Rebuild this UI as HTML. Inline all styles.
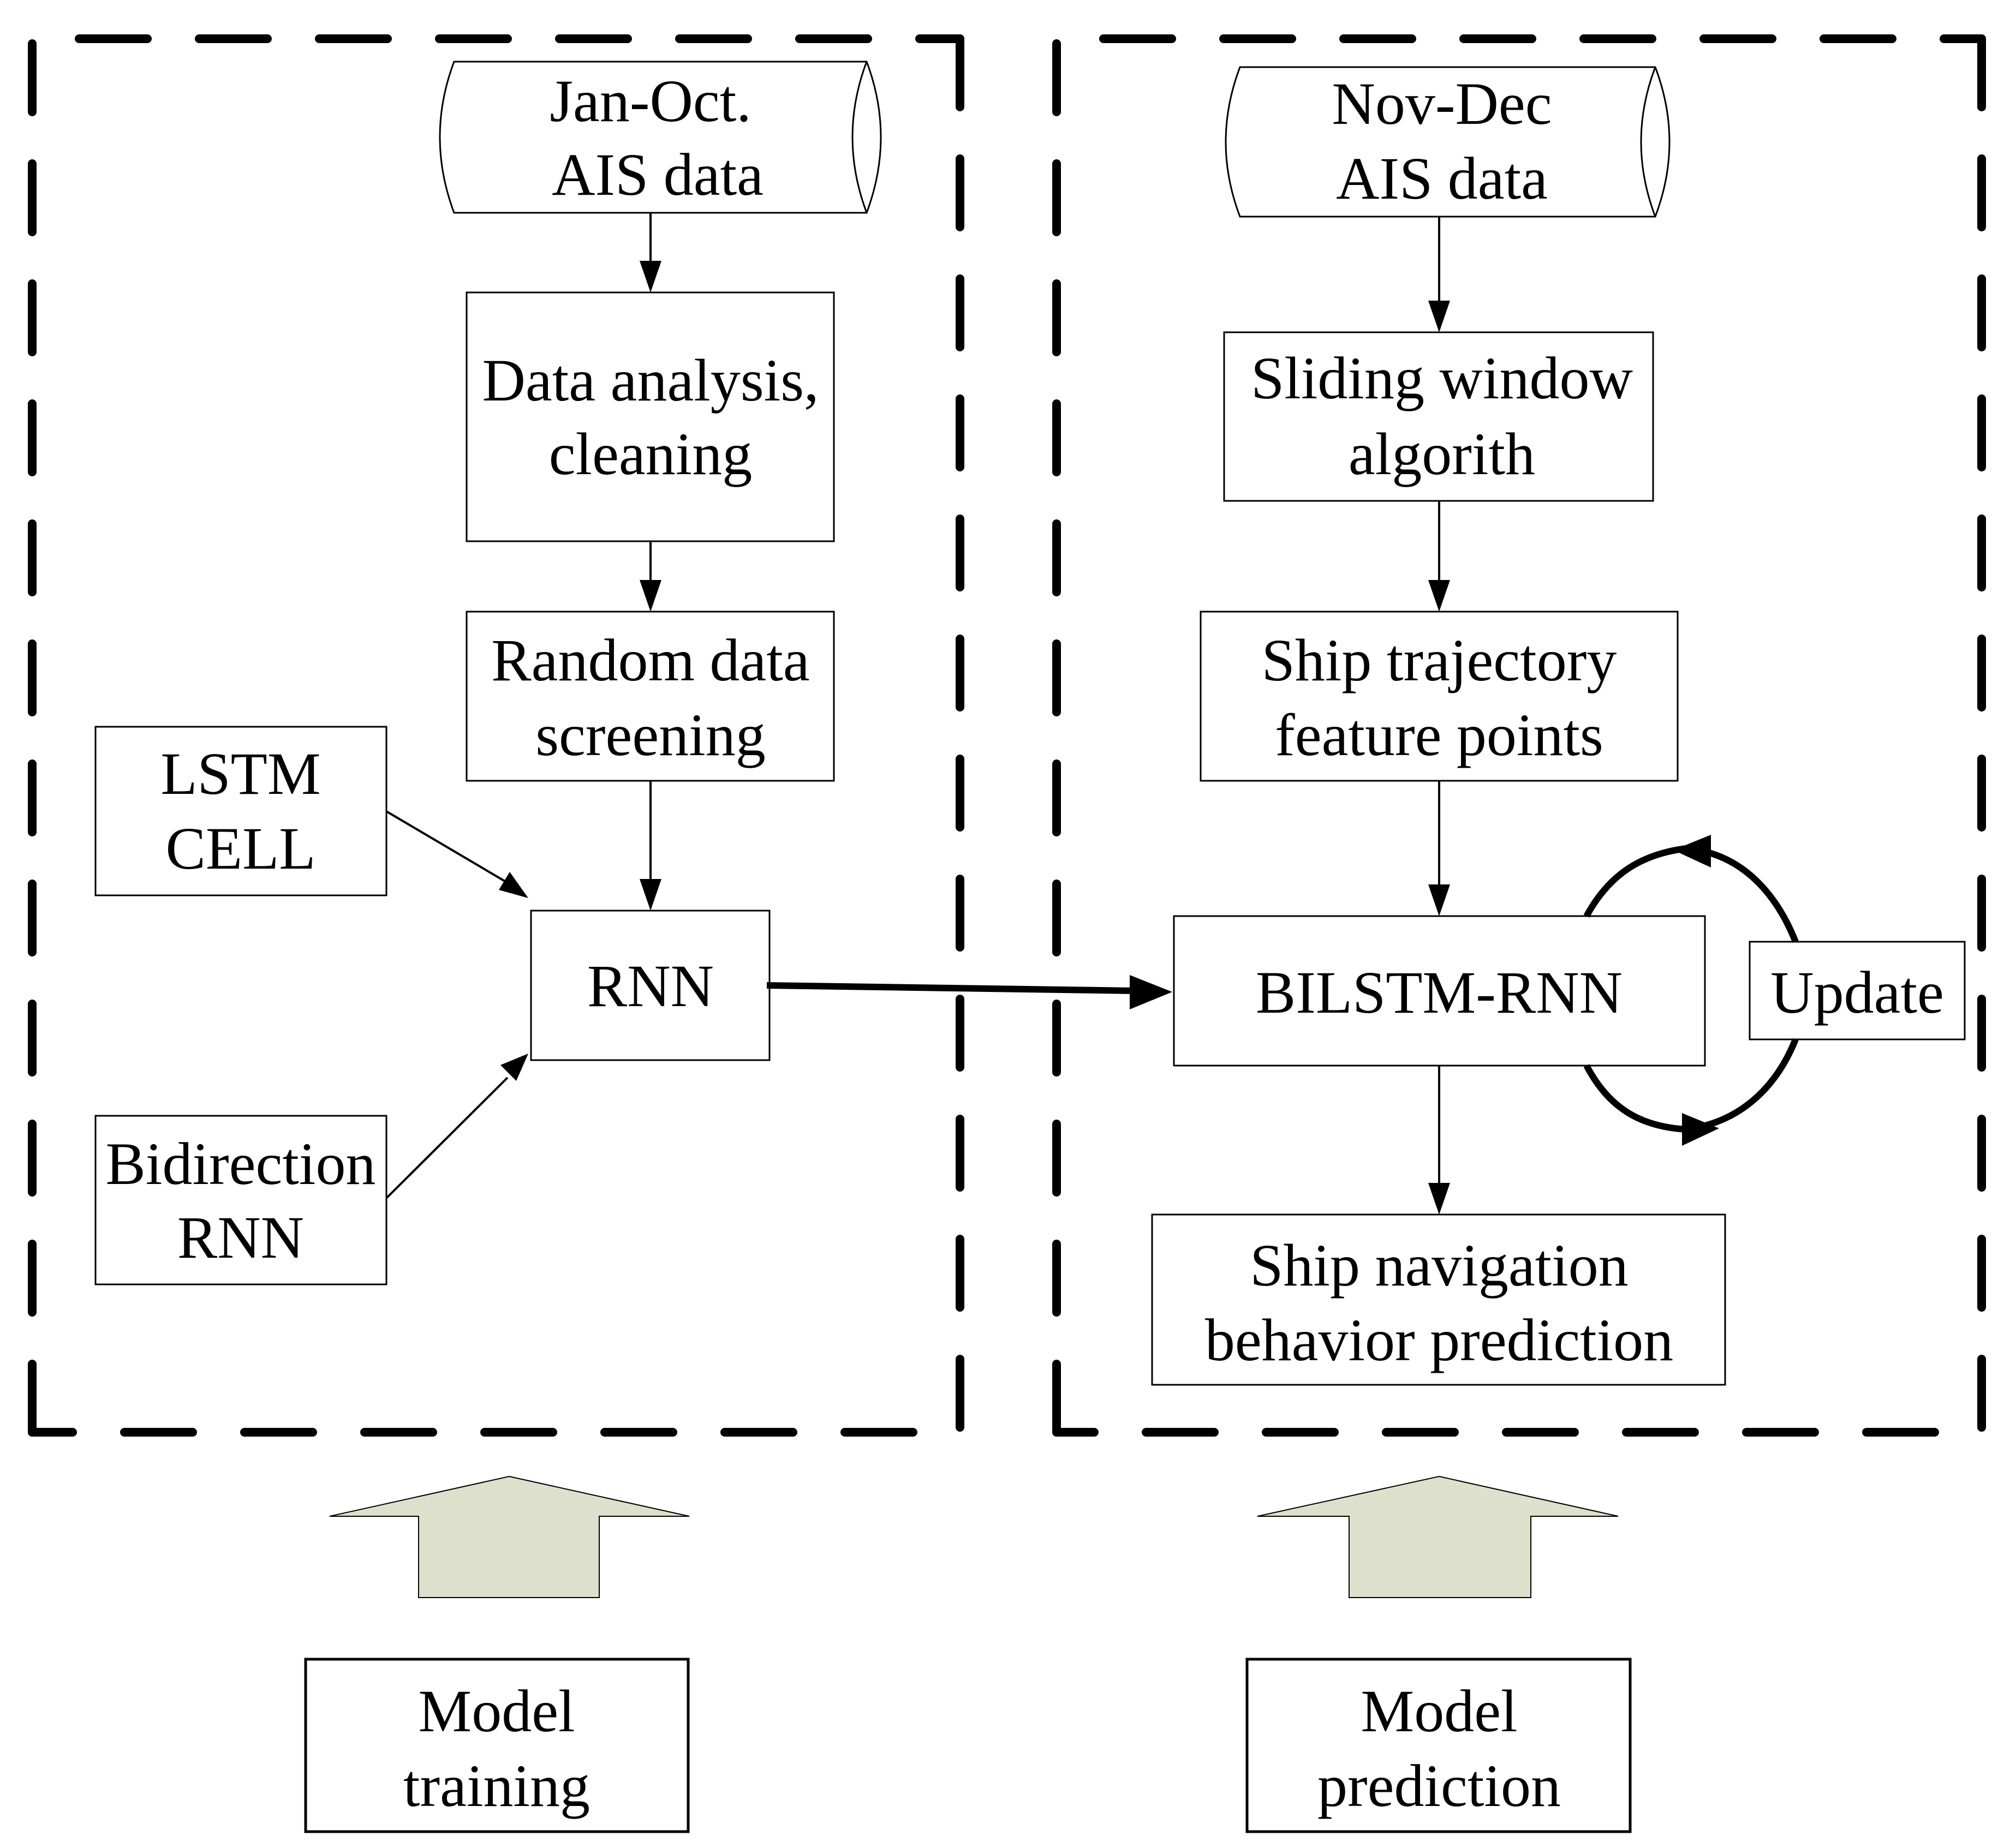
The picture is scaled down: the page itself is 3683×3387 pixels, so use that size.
<!DOCTYPE html>
<html><head><meta charset="utf-8"><style>html,body{margin:0;padding:0;background:#fff}svg{display:block}</style></head>
<body>
<svg width="3683" height="3387" viewBox="0 0 3683 3387" xmlns="http://www.w3.org/2000/svg" font-family="'Liberation Serif', serif" font-size="110" text-anchor="middle">
<rect width="3683" height="3387" fill="#fff"/>
<g fill="none" stroke="#000" stroke-width="16" stroke-linecap="round" stroke-dasharray="125 95">
<path d="M59 2625 L59 71 L1759 71"/>
<path d="M1759 71 L1759 2625 L59 2625"/>
<path d="M1936 2625 L1936 71 L3631 71"/>
<path d="M3631 71 L3631 2625 L1936 2625"/>
</g>
<g fill="#fff" stroke="#000" stroke-width="3">
<path d="M832 113 L1588 113 Q1640 251 1588 390 L832 390 Q780 251 832 113 Z"/>
<path d="M1588 113 Q1536 251 1588 390"/>
<path d="M2272 123 L3033 123 Q3085 260 3033 397 L2272 397 Q2220 260 2272 123 Z"/>
<path d="M3033 123 Q2981 260 3033 397"/>
<rect x="855" y="536" width="673" height="456"/>
<rect x="855" y="1121" width="673" height="310"/>
<rect x="175" y="1332" width="533" height="309"/>
<rect x="973" y="1669" width="437" height="274"/>
<rect x="175" y="2045" width="533" height="309"/>
<rect x="2243" y="609" width="786" height="309"/>
<rect x="2200" y="1121" width="874" height="310"/>
<rect x="2151" y="1679" width="973" height="274"/>
<rect x="3206" y="1726" width="394" height="179"/>
<rect x="2111" y="2226" width="1050" height="312"/>
</g>
<g stroke="#000" stroke-width="4" fill="none">
<line x1="1192" y1="390" x2="1192" y2="480"/>
<line x1="1192" y1="992" x2="1192" y2="1065"/>
<line x1="1192" y1="1431" x2="1192" y2="1613"/>
<line x1="2637" y1="397" x2="2637" y2="553"/>
<line x1="2637" y1="918" x2="2637" y2="1065"/>
<line x1="2637" y1="1431" x2="2637" y2="1623"/>
<line x1="2637" y1="1953" x2="2637" y2="2170"/>
<line x1="708" y1="1487" x2="925" y2="1615"/>
<line x1="708" y1="2196" x2="930" y2="1975"/>
</g>
<g fill="#000">
<polygon points="1192,536 1172,478 1212,478"/>
<polygon points="1192,1121 1172,1063 1212,1063"/>
<polygon points="1192,1669 1172,1611 1212,1611"/>
<polygon points="2637,609 2617,551 2657,551"/>
<polygon points="2637,1121 2617,1063 2657,1063"/>
<polygon points="2637,1679 2617,1621 2657,1621"/>
<polygon points="2637,2226 2617,2168 2657,2168"/>
<polygon points="968,1646 914,1631 934,1598"/>
<polygon points="968,1931 946,1981 917,1952"/>
</g>
<line x1="1405" y1="1806" x2="2080" y2="1816" stroke="#000" stroke-width="12"/>
<polygon points="2148,1818 2070,1787 2070,1850" fill="#000"/>
<g fill="none" stroke="#000" stroke-width="12">
<path d="M2907 1679 C2950 1600 3010 1565 3090 1555 C3200 1565 3260 1650 3290 1726"/>
<path d="M2907 1953 C2950 2035 3010 2065 3090 2070 C3200 2055 3260 1980 3290 1905"/>
</g>
<g fill="#000">
<polygon points="3066,1558 3135,1530 3135,1590"/>
<polygon points="3150,2068 3082,2040 3082,2100"/>
</g>
<g fill="#dde1cc" stroke="#000" stroke-width="2">
<polygon points="933,2706 1263,2779 1098,2779 1098,2928 767,2928 767,2779 604,2779"/>
<polygon points="2637,2706 2965,2779 2805,2779 2805,2928 2472,2928 2472,2779 2304,2779"/>
</g>
<g fill="#fff" stroke="#000" stroke-width="5">
<rect x="560" y="3041" width="701" height="316"/>
<rect x="2285" y="3041" width="702" height="316"/>
</g>
<g fill="#000">
<text x="1192" y="222">Jan-Oct.</text>
<text x="1205" y="357">AIS data</text>
<text x="1192" y="734">Data analysis,</text>
<text x="1192" y="869">cleaning</text>
<text x="1192" y="1247">Random data</text>
<text x="1192" y="1384">screening</text>
<text x="441" y="1455">LSTM</text>
<text x="441" y="1592">CELL</text>
<text x="1192" y="1844">RNN</text>
<text x="441" y="2170">Bidirection</text>
<text x="441" y="2305">RNN</text>
<text x="2642" y="227">Nov-Dec</text>
<text x="2642" y="364">AIS data</text>
<text x="2642" y="730">Sliding window</text>
<text x="2642" y="869">algorith</text>
<text x="2637" y="1247">Ship trajectory</text>
<text x="2637" y="1384">feature points</text>
<text x="2637" y="1856">BILSTM-RNN</text>
<text x="3403" y="1856">Update</text>
<text x="2637" y="2356">Ship navigation</text>
<text x="2637" y="2493">behavior prediction</text>
<text x="910" y="3173">Model</text>
<text x="910" y="3310">training</text>
<text x="2637" y="3173">Model</text>
<text x="2637" y="3310">prediction</text>
</g>
</svg>
</body></html>
